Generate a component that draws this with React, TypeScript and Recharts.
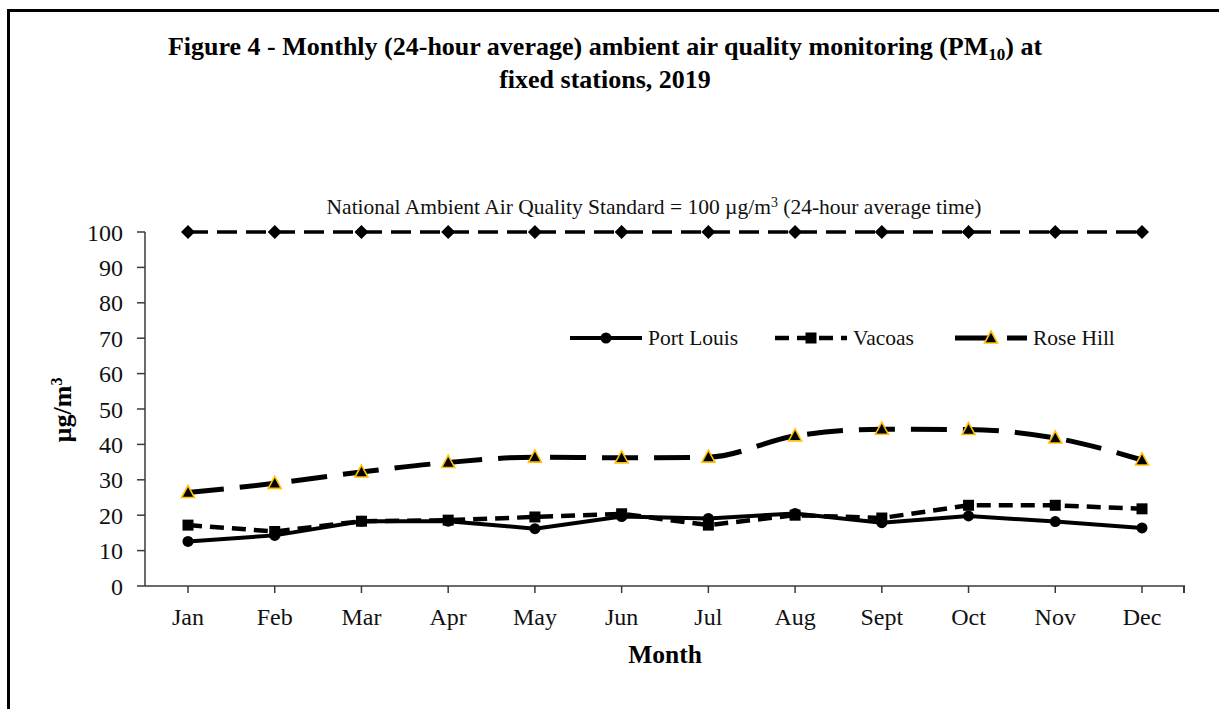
import React from "react";
import { LineChart, Line, XAxis, YAxis } from "recharts";

const months = ["Jan", "Feb", "Mar", "Apr", "May", "Jun", "Jul", "Aug", "Sept", "Oct", "Nov", "Dec"];
const portLouis = [12.6, 14.3, 18.3, 18.3, 16.2, 19.6, 19.1, 20.5, 17.9, 19.8, 18.2, 16.4];
const vacoas = [17.2, 15.4, 18.3, 18.6, 19.5, 20.4, 17.2, 20.0, 19.2, 22.8, 22.8, 21.8];
const roseHill = [26.4, 29.0, 32.2, 34.9, 36.4, 36.2, 36.4, 42.4, 44.3, 44.2, 41.8, 35.6];
const standard = [100, 100, 100, 100, 100, 100, 100, 100, 100, 100, 100, 100];
const yTicks = [0, 10, 20, 30, 40, 50, 60, 70, 80, 90, 100];

const data = months.map((m, i) => ({
  month: m,
  portLouis: portLouis[i],
  vacoas: vacoas[i],
  roseHill: roseHill[i],
  standard: standard[i],
}));

const serif = '"Liberation Serif", "Times New Roman", serif';
const axisColor = "#3a3a3a";
const gold = "#FFC000";

const Diamond = ({ cx, cy }: any) => (
  <path d={`M${cx},${cy - 7} L${cx + 7},${cy} L${cx},${cy + 7} L${cx - 7},${cy} Z`} fill="#000" />
);
const Square = ({ cx, cy }: any) => <rect x={cx - 5.5} y={cy - 5.5} width={11} height={11} fill="#000" />;
const Dot = ({ cx, cy }: any) => <circle cx={cx} cy={cy} r={5.5} fill="#000" />;
const Tri = ({ cx, cy }: any) => (
  <path d={`M${cx},${cy - 7} L${cx + 6.5},${cy + 5} L${cx - 6.5},${cy + 5} Z`} fill="#000" stroke={gold} strokeWidth={1.6} />
);

const legendItems = [
  { name: "Port Louis", left: 570, dash: undefined, width: 4, Marker: Dot },
  { name: "Vacoas", left: 775, dash: "14 8", width: 4.5, Marker: Square },
  { name: "Rose Hill", left: 955, dash: "36 16", width: 5, Marker: Tri },
];

export default function App() {
  return (
    <div style={{ position: "absolute", left: 0, top: 0, width: 1219, height: 709, overflow: "hidden", background: "#fff", fontFamily: serif }}>
      <div style={{ position: "absolute", left: 7, top: 9, width: 1400, height: 900, borderTop: "3px solid #000", borderLeft: "3px solid #000" }} />
      <div style={{ position: "absolute", left: 0, width: 1210, top: 32, textAlign: "center", fontWeight: "bold", fontSize: 26, lineHeight: "30px", color: "#000" }}>
        Figure 4 - Monthly (24-hour average) ambient air quality monitoring (PM
        <span style={{ fontSize: 17, position: "relative", top: 5 }}>10</span>) at
        <br />
        fixed stations, 2019
      </div>
      <div style={{ position: "absolute", left: 654, top: 208, transform: "translate(-50%, -50%)", whiteSpace: "nowrap", fontSize: 21.5, color: "#111", lineHeight: "24px" }}>
        National Ambient Air Quality Standard = 100 µg/m
        <span style={{ fontSize: 14, position: "relative", top: -7 }}>3</span> (24-hour average time)
      </div>
      <LineChart
        width={1219}
        height={709}
        data={data}
        margin={{ top: 232, right: 34, bottom: 63, left: 0 }}
        style={{ position: "absolute", left: 0, top: 0 }}
      >
        <XAxis
          dataKey="month"
          height={60}
          padding={{ left: 43, right: 43 }}
          tick={{ fill: "#111", fontSize: 24, fontFamily: serif }}
          tickLine={{ stroke: axisColor, strokeWidth: 1.5 }}
          axisLine={{ stroke: axisColor, strokeWidth: 1.5 }}
          tickSize={7}
          tickMargin={15}
          interval={0}
        />
        <YAxis
          width={145}
          domain={[0, 100]}
          ticks={yTicks}
          tick={{ fill: "#111", fontSize: 24, fontFamily: serif }}
          tickLine={{ stroke: axisColor, strokeWidth: 1.5 }}
          axisLine={{ stroke: axisColor, strokeWidth: 1.5 }}
          tickSize={8}
          tickMargin={14}
          interval={0}
        />
        <Line dataKey="standard" stroke="#000" strokeWidth={3.5} strokeDasharray="20 9" dot={(p: any) => <Diamond key={p.index} {...p} />} isAnimationActive={false} />
        <Line dataKey="roseHill" type="monotone" stroke="#000" strokeWidth={5} strokeDasharray="36 16" dot={false} isAnimationActive={false} />
        <Line dataKey="vacoas" stroke="#000" strokeWidth={4.5} strokeDasharray="14 8" dot={(p: any) => <Square key={p.index} {...p} />} isAnimationActive={false} />
        <Line dataKey="portLouis" stroke="#000" strokeWidth={4} dot={(p: any) => <Dot key={p.index} {...p} />} isAnimationActive={false} />
        <Line dataKey="roseHill" type="monotone" stroke="none" dot={(p: any) => <Tri key={p.index} {...p} />} isAnimationActive={false} legendType="none" />
      </LineChart>
      <div style={{ position: "absolute", left: 1183, top: 586, width: 1.5, height: 7, background: axisColor }} />
      {legendItems.map(({ name, left, dash, width, Marker }) => (
        <div key={name} style={{ position: "absolute", left, top: 326, height: 24, display: "flex", alignItems: "center", whiteSpace: "nowrap", fontSize: 21.5, color: "#111" }}>
          <svg width={72} height={24} style={{ marginRight: 6 }}>
            <line x1={0} y1={12} x2={72} y2={12} stroke="#000" strokeWidth={width} strokeDasharray={dash} />
            <Marker cx={36} cy={12} />
          </svg>
          {name}
        </div>
      ))}
      <div style={{ position: "absolute", left: 63, top: 410, transform: "translate(-50%, -50%) rotate(-90deg)", whiteSpace: "nowrap", fontWeight: "bold", fontSize: 26, color: "#000" }}>
        µg/m<span style={{ fontSize: 16, position: "relative", top: -9 }}>3</span>
      </div>
      <div style={{ position: "absolute", left: 665, top: 655, transform: "translate(-50%, -50%)", fontWeight: "bold", fontSize: 25.5, color: "#000" }}>
        Month
      </div>
    </div>
  );
}
